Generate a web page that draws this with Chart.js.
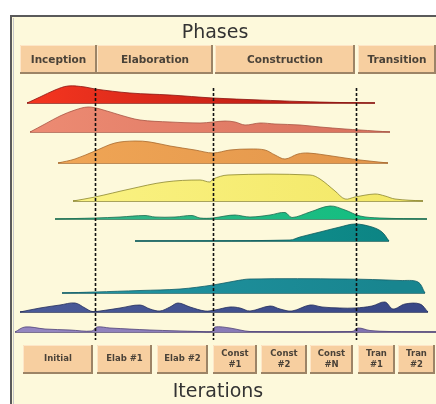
<!DOCTYPE html>
<html>
<head>
<meta charset="utf-8">
<script src="https://cdn.jsdelivr.net/npm/chart.js@4"></script>
<style>
  html, body { margin: 0; padding: 0; background: #fff; }
  canvas { display: block; }
</style>
</head>
<body>
<canvas id="rup" width="436" height="404"></canvas>
<script>
// discipline lanes, top to bottom
const disciplines = ["Business Modeling", "Requirements", "Analysis & Design", "Implementation",
    "Test", "Deployment", "Config & Change Mgmt", "Project Management", "Environment"];
const laneBase = [301, 272, 241, 203, 185, 163, 111, 92, 72];

// effort humps: [time, effort] pairs
const businessModeling = [[27,0],[40,6],[55,13],[68,17],[85,16],[95,14],[130,10],[170,8],[213,5],[260,3],[300,1.5],[340,0.5],[375,0]];
const requirements = [[30,0],[45,8],[60,16],[75,22],[88,25],[100,23],[120,17],[140,12],[170,10],[200,9],[213,10],[225,11],[235,10],[245,7],[260,9],[275,8],[300,7],[320,5],[345,3],[360,2],[390,0]];
const analysisDesign = [[58,0],[75,4],[95,12],[115,20],[135,22],[150,21],[170,17],[195,13],[213,10],[230,13],[250,14],[265,13],[275,8],[285,4],[298,9],[308,10],[325,8],[345,5],[360,3],[388,0]];
const implementation = [[73,0],[95,4],[130,12],[165,19],[200,21],[210,19],[213,22],[228,26],[310,26],[320,22],[335,10],[345,2],[355,4],[375,7],[385,5],[395,2],[423,0]];
const test = [[55,0],[95,1],[120,2],[145,3.5],[155,2],[175,2],[192,3.5],[200,1],[213,1],[225,3],[235,4],[250,2],[270,4],[285,6.5],[292,1.5],[310,7],[330,13],[345,9],[360,3],[380,1],[427,0]];
const deployment = [[135,0],[290,1],[300,4],[320,9],[340,14],[355,17],[372,14],[382,9],[389,0]];
const configMgmt = [[62,0],[95,1],[140,2.5],[180,4],[213,8],[235,12],[250,14],[345,14],[400,12.5],[418,11],[425,0]];
const projectMgmt = [[20,0],[40,4],[60,7],[75,9],[85,4],[92,0.5],[100,1],[120,4],[140,7],[150,3],[160,1],[170,5],[178,9],[190,5],[205,1],[215,2],[230,5],[240,4],[250,1],[270,6],[280,3],[292,1],[310,7],[322,5],[340,4],[355,4],[372,6],[385,10],[393,3],[405,8],[420,8],[428,0]];
const environment = [[15,0],[25,5],[45,3],[70,2],[92,1],[97,5],[110,4],[150,2],[200,0.5],[212,0.5],[215,5],[230,4],[240,2],[250,0.5],[352,0.5],[358,4],[370,1.5],[390,0.5],[436,0]];
const humps = [businessModeling, requirements, analysisDesign, implementation, test, deployment, configMgmt, projectMgmt, environment];

const fillColors = [["#f2341f", "#a8140f"], ["#ec8a72", "#d8705c"], ["#f0a656", "#e2954a"], ["#fbf385", "#f3e868"],
    ["#3cb088", "#10c080"], ["#16a098", "#0c8484"], ["#2296a4", "#18858f"], ["#4a5a98", "#394886"], ["#9486c0", "#7e70ae"]];
const edgeColors = ["#8a1410", "#a85444", "#a8682c", "#8c8630", "#1c6c50", "#0c5c5c", "#125e68", "#222c5c", "#504478"];

// phases and iterations (time boundaries)
const phases = ["Inception", "Elaboration", "Construction", "Transition"];
const phaseEdges = [[20,97],[97,213],[215,355],[358,436]];
const milestones = [95, 213, 356];
const iterations = ["Initial", "Elab #1", "Elab #2", "Const\n#1", "Const\n#2", "Const\n#N", "Tran\n#1", "Tran\n#2"];
const iterationEdges = [[23,93],[97,152],[157,208],[213,257],[261,307],[310,353],[358,395],[398,435]];

const datasets = [];
humps.forEach((pts, i) => {
    const base = laneBase[i];
    datasets.push({
        label: disciplines[i],
        data: pts.map(p => ({x: p[0], y: base + p[1]})),
        borderColor: edgeColors[i],
        borderWidth: 0.8,
        tension: 0.35,
        fill: {value: base},
        backgroundColor: (ctx) => {
            const area = ctx.chart.chartArea;
            if (!area) return fillColors[i][0];
            const g = ctx.chart.ctx.createLinearGradient(area.left, 0, area.right, 0);
            g.addColorStop(0.1, fillColors[i][0]);
            g.addColorStop(0.9, fillColors[i][1]);
            return g;
        },
    });
    datasets.push({
        label: disciplines[i] + " base",
        data: [{x: pts[0][0], y: base}, {x: pts[pts.length - 1][0], y: base}],
        borderColor: edgeColors[i],
        borderWidth: 1.6,
        fill: false,
    });
});

function drawBox(c, x1, x2, y1, y2) {
    c.fillStyle = "#f7cfa0";
    c.fillRect(x1, y1, x2 - x1, y2 - y1);
    c.strokeStyle = "#fde6c8";
    c.lineWidth = 1;
    c.beginPath();
    c.moveTo(x1 + 0.5, y2); c.lineTo(x1 + 0.5, y1 + 0.5); c.lineTo(x2, y1 + 0.5);
    c.stroke();
    c.strokeStyle = "#9c8466";
    c.lineWidth = 2;
    c.beginPath();
    c.moveTo(x2 - 1, y1); c.lineTo(x2 - 1, y2 - 1); c.lineTo(x1, y2 - 1);
    c.stroke();
}

const frame = {
    id: "frame",
    beforeDraw(chart) {
        const c = chart.ctx;
        c.save();
        c.fillStyle = "#ffffff";
        c.fillRect(0, 0, chart.width, chart.height);
        c.fillStyle = "#fdf9db";
        c.fillRect(11, 16, chart.width - 11, chart.height - 16);
        c.strokeStyle = "#5a5a5a";
        c.lineWidth = 2;
        c.beginPath();
        c.moveTo(11, chart.height); c.lineTo(11, 16); c.lineTo(chart.width, 16);
        c.stroke();
        c.strokeStyle = "#c8c8c8";
        c.lineWidth = 1;
        c.beginPath();
        c.moveTo(13.5, chart.height); c.lineTo(13.5, 18);
        c.stroke();
        c.restore();
    },
    afterDatasetsDraw(chart) {
        const c = chart.ctx;
        const xs = chart.scales.x;
        c.save();
        // milestone lines
        c.strokeStyle = "#111";
        c.lineWidth = 1.6;
        c.setLineDash([3, 2]);
        milestones.forEach(m => {
            const px = Math.round(xs.getPixelForValue(m)) + 0.5;
            c.beginPath();
            c.moveTo(px, 88); c.lineTo(px, 340);
            c.stroke();
        });
        c.setLineDash([]);
        // titles
        c.fillStyle = "#333";
        c.textAlign = "center";
        c.textBaseline = "middle";
        c.font = "19px 'DejaVu Sans'";
        c.fillText("Phases", 215, 33);
        c.fillText("Iterations", 218, 392);
        // phase boxes
        c.font = "bold 10.5px 'DejaVu Sans'";
        phaseEdges.forEach((e, i) => {
            const x1 = xs.getPixelForValue(e[0]), x2 = xs.getPixelForValue(e[1]);
            drawBox(c, x1, x2, 45, 74);
            c.fillStyle = "#4a4238";
            c.fillText(phases[i], (x1 + x2) / 2, 60);
        });
        // iteration boxes
        c.font = "bold 8.5px 'DejaVu Sans'";
        iterationEdges.forEach((e, i) => {
            const x1 = xs.getPixelForValue(e[0]), x2 = xs.getPixelForValue(e[1]);
            drawBox(c, x1, x2, 345, 374);
            c.fillStyle = "#4a4238";
            const lines = iterations[i].split("\n");
            lines.forEach((t, k) => {
                c.fillText(t, (x1 + x2) / 2, 359 + (k - (lines.length - 1) / 2) * 11);
            });
        });
        c.restore();
    },
};

new Chart(document.getElementById("rup").getContext("2d"), {
    type: "line",
    data: {datasets: datasets},
    options: {
        responsive: false,
        animation: false,
        devicePixelRatio: 1,
        layout: {padding: 0},
        elements: {point: {radius: 0}},
        scales: {
            x: {type: "linear", min: 0, max: 436, display: false},
            y: {type: "linear", min: 0, max: 404, display: false},
        },
        plugins: {legend: {display: false}, tooltip: {enabled: false}},
    },
    plugins: [frame],
});
</script>
</body>
</html>
